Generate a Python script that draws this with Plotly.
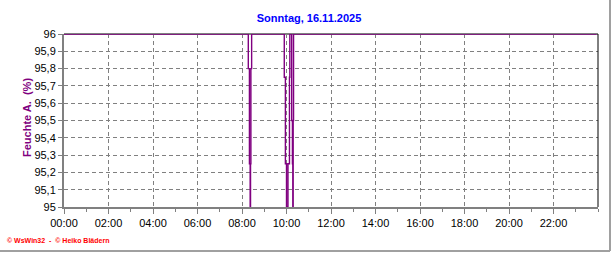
import plotly.graph_objects as go

# ---- data ----
day = "2025-11-16"
times = ["00:00", "08:17", "08:20", "08:22", "08:23", "08:24", "08:26",
         "09:54", "09:57", "10:00", "10:04", "10:08", "10:09",
         "10:14", "10:16", "10:17", "10:18", "10:19", "23:56"]
humidity = [96.0, 95.8, 95.25, 95.0, 95.25, 95.8, 96.0,
            95.75, 95.25, 95.0, 95.25, 95.75, 96.0,
            95.5, 95.25, 95.0, 95.5, 96.0, 96.0]
y_ticks = [95.0, 95.1, 95.2, 95.3, 95.4, 95.5, 95.6, 95.7, 95.8, 95.9, 96.0]
y_tick_labels = ["95", "95,1", "95,2", "95,3", "95,4", "95,5", "95,6", "95,7", "95,8", "95,9", "96"]
x_tick_hours = ["00:00", "02:00", "04:00", "06:00", "08:00", "10:00",
                "12:00", "14:00", "16:00", "18:00", "20:00", "22:00"]
title_text = "Sonntag, 16.11.2025"
y_title = "Feuchte A.  (%)"
footer = "© WsWin32  -  © Heiko Blädern"

x = [f"{day} {t}" for t in times]
xt = [f"{day} {t}" for t in x_tick_hours]

fig = go.Figure()
fig.add_trace(go.Scatter(
    x=x, y=humidity, mode="lines", line=dict(color="#800080", width=1.4, shape="hv"),
    hoverinfo="skip", showlegend=False))

L, R, T, B = 64, 18, 34, 46
W, H = 616, 253
pw, ph = W - L - R, H - T - B

fig.update_layout(
    width=W, height=H, margin=dict(l=L, r=R, t=T, b=B),
    paper_bgcolor="white", plot_bgcolor="white",
    font=dict(family="Arial", size=11, color="black"),
    title=dict(text=title_text, x=309 / W, xanchor="center", y=1 - 18 / H, yanchor="middle",
               font=dict(family="Arial", size=11, color="#0000FF", weight="bold")),
    xaxis=dict(
        type="date", range=[f"{day} 00:00", "2025-11-17 00:00"],
        tickvals=xt, ticktext=x_tick_hours,
        showgrid=True, gridcolor="#808080", griddash="4px,3px", gridwidth=1,
        showline=True, linecolor="#808080", linewidth=2,
        ticks="outside", ticklen=5, tickcolor="#808080", tickwidth=1,
        minor=dict(dtick=3600000, ticks="outside", ticklen=3, tickcolor="#808080", showgrid=False),
        tickfont=dict(family="Arial", size=11, color="black"), zeroline=False, fixedrange=True,
    ),
    yaxis=dict(
        range=[95, 96], tickvals=y_ticks, ticktext=y_tick_labels,
        showgrid=True, gridcolor="#808080", griddash="4px,3px", gridwidth=1,
        showline=True, linecolor="#808080", linewidth=2,
        ticks="outside", ticklen=4, tickcolor="#808080", tickwidth=1,
        tickfont=dict(family="Arial", size=11, color="black"), zeroline=False, fixedrange=True,
    ),
    shapes=[
        dict(type="line", xref="paper", yref="paper", x0=0, x1=1, y0=1, y1=1,
             line=dict(color="black", width=1), layer="below"),
        dict(type="line", xref="paper", yref="paper", x0=1, x1=1, y0=0, y1=1,
             line=dict(color="black", width=1), layer="above"),
        dict(type="line", xref="paper", yref="paper",
             x0=(610 - L) / pw, x1=(610 - L) / pw, y0=(H - B - 0) / ph, y1=-(251 - (H - B)) / ph,
             line=dict(color="#A0A0A0", width=2)),
        dict(type="line", xref="paper", yref="paper",
             x0=-L / pw, x1=(610 - L) / pw, y0=-(251 - (H - B)) / ph, y1=-(251 - (H - B)) / ph,
             line=dict(color="#A0A0A0", width=2)),
    ],
    annotations=[
        dict(text=y_title, xref="paper", yref="paper", x=(27 - L) / pw, y=(H - B - 118) / ph,
             xanchor="center", yanchor="middle", textangle=-90, showarrow=False,
             font=dict(family="Arial", size=11, color="#800080", weight="bold")),
        dict(text=footer, xref="paper", yref="paper", x=(5 - L) / pw, y=-(240 - (H - B)) / ph,
             xanchor="left", yanchor="middle", showarrow=False,
             font=dict(family="Arial", size=7, color="#FF0000", weight="bold")),
    ],
)
fig.write_html("out.html")
